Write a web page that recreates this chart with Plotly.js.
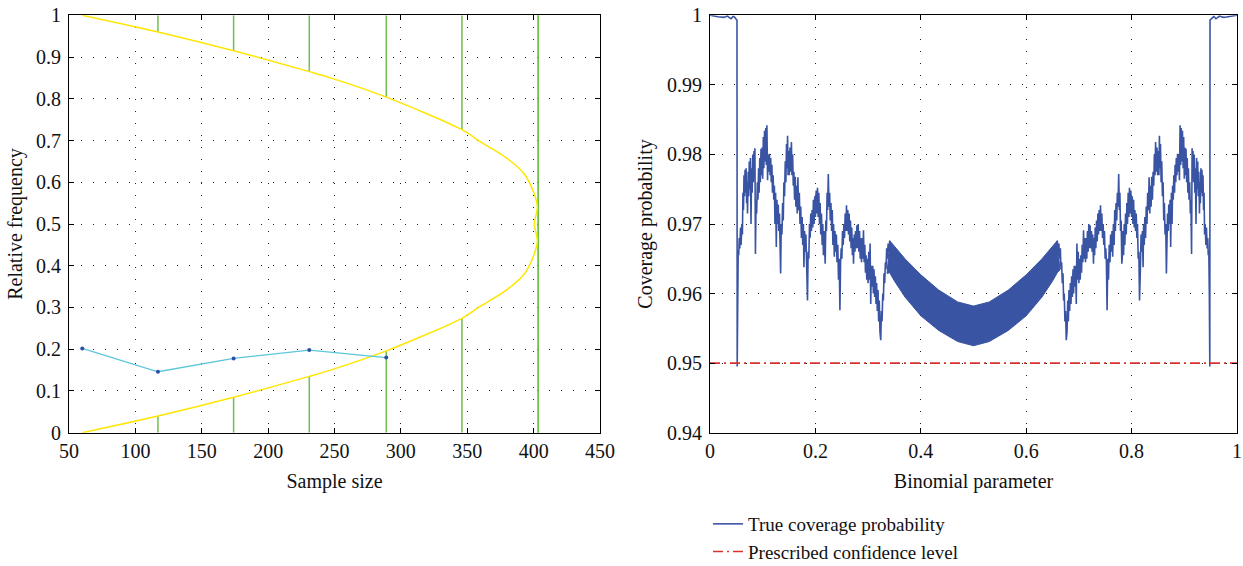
<!DOCTYPE html>
<html>
<head>
<meta charset="utf-8">
<script src="https://cdn.plot.ly/plotly-3.0.1.min.js"></script>
<style>html,body{margin:0;padding:0;background:#fff;}#chart{width:1243px;height:566px;}</style>
</head>
<body>
<div id="chart"></div>
<script>
// ---------- Left panel data ----------
const curveFreq = [0, 0.04, 0.085, 0.135, 0.15, 0.196, 0.274, 0.303, 0.343, 0.379, 0.426, 0.459, 0.5, 0.541, 0.574, 0.621, 0.657, 0.697, 0.726, 0.804, 0.85, 0.865, 0.915, 0.96, 1.0];
const curveSize = [60, 117, 174, 231, 247, 289, 346, 360, 380, 392.7, 400.2, 402.8, 400.6, 402.8, 400.2, 392.7, 380, 360, 346, 289, 247, 231, 174, 117, 60];

const stageSizes = [117, 174, 231, 289, 346, 403.5];
const stageLowerEnd = [0.04, 0.085, 0.135, 0.196, 0.274, 1.0];
const stageUpperStart = [0.96, 0.915, 0.865, 0.804, 0.726, 0.0];

const obsSize = [60, 117, 174, 231, 289];
const obsFreq = [0.202, 0.146, 0.178, 0.198, 0.180];

// ---------- Right panel data ----------
const edgeLeftP = [0, 0.005, 0.01, 0.015, 0.02, 0.025, 0.03, 0.033, 0.036, 0.04, 0.044, 0.047, 0.05, 0.0512];
const edgeLeftV = [1.0, 0.9999, 0.99985, 0.9998, 0.99975, 0.9997, 0.9998, 0.9999, 0.9997, 0.9995, 0.99985, 0.9997, 0.9994, 0.9993];

const jagLeftP = [
0.0516,0.0525,0.0535,0.0545,0.0555,0.0565,0.0580,0.0590,0.0605,0.0615,0.0625,0.0635,0.0645,0.0655,0.0665,0.0675,0.0685,0.0695,0.0705,0.0712,
0.0725,0.0735,0.0745,0.0755,0.0767,0.0778,0.0790,0.0800,0.0812,0.0822,0.0835,0.0845,0.0852,0.0862,0.0875,0.0885,0.0898,0.0910,0.0922,0.0932,
0.0945,0.0955,0.0968,0.0978,0.0990,0.1000,0.1012,0.1022,0.1035,0.1045,0.1058,0.1068,0.1080,0.1092,0.1105,0.1115,0.1128,0.1140,0.1152,0.1162,
0.1175,0.1185,0.1198,0.1210,0.1222,0.1232,0.1245,0.1258,0.1270,0.1280,0.1295,0.1305,0.1318,0.1330,0.1340,0.1352,0.1365,0.1378,0.1390,0.1402,
0.1415,0.1428,0.1440,0.1452,0.1462,0.1472,0.1482,0.1495,0.1505,0.1518,0.1530,0.1545,0.1555,0.1568,0.1580,0.1592,0.1605,0.1618,0.1630,0.1645,
0.1655,0.1668,0.1680,0.1695,0.1708,0.1722,0.1735,0.1748,0.1760,0.1772,0.1782,0.1795,0.1808,0.1820,0.1835,0.1850,0.1862,0.1875,0.1888,0.1900,
0.1912,0.1925,0.1938,0.1950,0.1962,0.1975,0.1988,0.2000,0.2015,0.2028,0.2040,0.2052,0.2065,0.2078,0.2090,0.2102,0.2115,0.2128,0.2140,0.2152,
0.2165,0.2178,0.2186,0.2198,0.2210,0.2222,0.2232,0.2245,0.2258,0.2270,0.2282,0.2295,0.2308,0.2320,0.2332,0.2345,0.2359,0.2372,0.2385,0.2398,
0.2410,0.2425,0.2438,0.2452,0.2465,0.2478,0.2490,0.2502,0.2515,0.2528,0.2540,0.2552,0.2565,0.2578,0.2590,0.2602,0.2615,0.2628,0.2640,0.2652,
0.2665,0.2678,0.2690,0.2702,0.2715,0.2723,0.2738,0.2750,0.2762,0.2775,0.2788,0.2800,0.2812,0.2825,0.2838,0.2850,0.2862,0.2875,0.2888,0.2900,
0.2912,0.2925,0.2938,0.2950,0.2962,0.2975,0.2988,0.3000,0.3012,0.3025,0.3038,0.3050,0.3062,0.3075,0.3088,0.3100,0.3112,0.3125,0.3138,0.3150,
0.3162,0.3175,0.3188,0.3200,0.3212,0.3225,0.3240,0.3252,0.3265,0.3278,0.3290,0.3302,0.3315,0.3328,0.3340,0.3352,0.3365,0.3380,0.3395,0.3410];
const jagLeftV = [
0.9495,0.9600,0.9662,0.9655,0.9680,0.9665,0.9695,0.9670,0.9700,0.9685,0.9745,0.9720,0.9770,0.9740,0.9778,0.9745,0.9780,0.9730,0.9760,0.9715,
0.9775,0.9740,0.9790,0.9750,0.9795,0.9700,0.9780,0.9745,0.9800,0.9760,0.9805,0.9770,0.9809,0.9657,0.9735,0.9715,0.9760,0.9735,0.9780,0.9745,
0.9795,0.9760,0.9808,0.9770,0.9810,0.9765,0.9825,0.9780,0.9834,0.9790,0.9838,0.9785,0.9842,0.9763,0.9800,0.9775,0.9801,0.9770,0.9795,0.9760,
0.9785,0.9745,0.9770,0.9735,0.9755,0.9700,0.9745,0.9667,0.9735,0.9700,0.9728,0.9690,0.9715,0.9660,0.9629,0.9700,0.9685,0.9730,0.9705,0.9760,
0.9740,0.9790,0.9760,0.9815,0.9780,0.9827,0.9770,0.9805,0.9770,0.9810,0.9775,0.9818,0.9770,0.9800,0.9755,0.9775,0.9735,0.9768,0.9725,0.9755,
0.9715,0.9767,0.9720,0.9745,0.9700,0.9725,0.9680,0.9710,0.9670,0.9700,0.9638,0.9690,0.9660,0.9685,0.9630,0.9590,0.9660,0.9650,0.9700,0.9680,
0.9715,0.9690,0.9720,0.9695,0.9735,0.9700,0.9740,0.9710,0.9748,0.9715,0.9752,0.9710,0.9745,0.9700,0.9730,0.9685,0.9715,0.9670,0.9700,0.9655,
0.9690,0.9650,0.9643,0.9705,0.9690,0.9745,0.9720,0.9772,0.9725,0.9745,0.9705,0.9730,0.9690,0.9720,0.9670,0.9700,0.9653,0.9690,0.9660,0.9685,
0.9645,0.9670,0.9620,0.9650,0.9576,0.9645,0.9665,0.9650,0.9690,0.9670,0.9700,0.9680,0.9715,0.9690,0.9727,0.9690,0.9720,0.9685,0.9715,0.9675,
0.9705,0.9665,0.9695,0.9655,0.9680,0.9643,0.9685,0.9660,0.9690,0.9665,0.9698,0.9665,0.9700,0.9660,0.9690,0.9650,0.9680,0.9645,0.9680,0.9650,
0.9691,0.9645,0.9670,0.9630,0.9655,0.9620,0.9650,0.9615,0.9660,0.9620,0.9672,0.9585,0.9640,0.9610,0.9640,0.9600,0.9635,0.9595,0.9625,0.9585,
0.9615,0.9575,0.9605,0.9560,0.9590,0.9545,0.9533,0.9575,0.9560,0.9600,0.9590,0.9629,0.9615,0.9645,0.9635,0.9665,0.9650,0.9672,0.9660,0.9676];

const jagRightP = [
0.6590,0.6605,0.6620,0.6635,0.6648,0.6660,0.6672,0.6685,0.6698,0.6710,0.6722,0.6735,0.6748,0.6760,0.6775,0.6788,0.6800,0.6812,0.6825,0.6838,
0.6850,0.6862,0.6875,0.6888,0.6900,0.6912,0.6925,0.6938,0.6950,0.6962,0.6975,0.6988,0.7000,0.7012,0.7025,0.7038,0.7050,0.7062,0.7075,0.7088,
0.7100,0.7112,0.7125,0.7138,0.7150,0.7162,0.7175,0.7188,0.7200,0.7212,0.7225,0.7238,0.7250,0.7262,0.7277,0.7285,0.7298,0.7310,0.7322,0.7335,
0.7348,0.7360,0.7372,0.7385,0.7398,0.7410,0.7422,0.7435,0.7448,0.7460,0.7472,0.7485,0.7498,0.7510,0.7522,0.7535,0.7548,0.7562,0.7575,0.7590,
0.7602,0.7615,0.7628,0.7641,0.7655,0.7668,0.7680,0.7692,0.7705,0.7718,0.7730,0.7742,0.7755,0.7768,0.7778,0.7790,0.7802,0.7814,0.7822,0.7835,
0.7848,0.7860,0.7872,0.7885,0.7898,0.7910,0.7922,0.7935,0.7948,0.7960,0.7972,0.7985,0.8000,0.8012,0.8025,0.8038,0.8050,0.8062,0.8075,0.8088,
0.8100,0.8112,0.8125,0.8138,0.8150,0.8165,0.8180,0.8192,0.8205,0.8218,0.8228,0.8240,0.8252,0.8265,0.8278,0.8292,0.8305,0.8320,0.8332,0.8345,
0.8355,0.8370,0.8382,0.8395,0.8408,0.8420,0.8432,0.8445,0.8455,0.8470,0.8482,0.8495,0.8505,0.8518,0.8528,0.8538,0.8548,0.8560,0.8572,0.8585,
0.8598,0.8610,0.8622,0.8635,0.8648,0.8660,0.8670,0.8682,0.8695,0.8705,0.8720,0.8730,0.8742,0.8755,0.8768,0.8778,0.8790,0.8802,0.8815,0.8825,
0.8838,0.8848,0.8860,0.8872,0.8885,0.8895,0.8908,0.8920,0.8932,0.8942,0.8955,0.8965,0.8978,0.8988,0.9000,0.9010,0.9022,0.9032,0.9045,0.9055,
0.9068,0.9078,0.9090,0.9102,0.9115,0.9125,0.9138,0.9148,0.9155,0.9165,0.9178,0.9188,0.9200,0.9210,0.9222,0.9233,0.9245,0.9255,0.9265,0.9275,
0.9288,0.9295,0.9305,0.9315,0.9325,0.9335,0.9345,0.9355,0.9365,0.9375,0.9385,0.9395,0.9410,0.9420,0.9435,0.9445,0.9455,0.9465,0.9475,0.9484];
const jagRightV = [
0.9676,0.9660,0.9672,0.9650,0.9665,0.9635,0.9645,0.9615,0.9629,0.9590,0.9600,0.9560,0.9575,0.9533,0.9545,0.9590,0.9560,0.9605,0.9575,0.9615,
0.9585,0.9625,0.9595,0.9635,0.9600,0.9640,0.9610,0.9640,0.9585,0.9672,0.9620,0.9660,0.9615,0.9650,0.9620,0.9655,0.9630,0.9670,0.9645,0.9691,
0.9650,0.9680,0.9645,0.9680,0.9650,0.9690,0.9660,0.9700,0.9665,0.9698,0.9665,0.9690,0.9660,0.9685,0.9643,0.9680,0.9655,0.9695,0.9665,0.9705,
0.9675,0.9715,0.9685,0.9720,0.9690,0.9727,0.9690,0.9715,0.9680,0.9700,0.9670,0.9690,0.9650,0.9665,0.9645,0.9576,0.9650,0.9620,0.9670,0.9645,
0.9685,0.9660,0.9690,0.9653,0.9700,0.9670,0.9720,0.9690,0.9730,0.9705,0.9745,0.9725,0.9772,0.9720,0.9745,0.9690,0.9705,0.9643,0.9650,0.9690,
0.9655,0.9700,0.9670,0.9715,0.9685,0.9730,0.9700,0.9745,0.9710,0.9752,0.9715,0.9748,0.9710,0.9740,0.9700,0.9735,0.9695,0.9720,0.9690,0.9715,
0.9680,0.9700,0.9650,0.9660,0.9590,0.9630,0.9685,0.9660,0.9690,0.9638,0.9700,0.9670,0.9710,0.9680,0.9725,0.9700,0.9745,0.9720,0.9767,0.9715,
0.9755,0.9725,0.9768,0.9735,0.9775,0.9755,0.9800,0.9770,0.9818,0.9775,0.9810,0.9770,0.9805,0.9770,0.9827,0.9780,0.9815,0.9760,0.9790,0.9740,
0.9760,0.9705,0.9730,0.9685,0.9700,0.9629,0.9660,0.9715,0.9690,0.9728,0.9700,0.9735,0.9667,0.9745,0.9700,0.9755,0.9735,0.9770,0.9745,0.9785,
0.9760,0.9795,0.9770,0.9801,0.9775,0.9800,0.9763,0.9842,0.9785,0.9838,0.9790,0.9834,0.9780,0.9825,0.9765,0.9810,0.9770,0.9808,0.9760,0.9795,
0.9745,0.9780,0.9735,0.9760,0.9715,0.9735,0.9657,0.9809,0.9770,0.9805,0.9760,0.9800,0.9745,0.9780,0.9700,0.9795,0.9750,0.9790,0.9740,0.9775,
0.9715,0.9760,0.9730,0.9780,0.9745,0.9778,0.9740,0.9770,0.9720,0.9745,0.9685,0.9700,0.9670,0.9695,0.9665,0.9680,0.9655,0.9662,0.9600,0.9495];

const edgeRightP = [0.9488, 0.95, 0.953, 0.956, 0.96, 0.964, 0.967, 0.97, 0.975, 0.98, 0.985, 0.99, 0.995, 1];
const edgeRightV = [0.9993, 0.9994, 0.9997, 0.99985, 0.9995, 0.9997, 0.9999, 0.9998, 0.9997, 0.99975, 0.9998, 0.99985, 0.9999, 1.0];

const bandP = [0.336, 0.341, 0.35, 0.37, 0.40, 0.434, 0.47, 0.5, 0.53, 0.566, 0.60, 0.63, 0.65, 0.659, 0.664];
const bandUpper = [0.9629, 0.9676, 0.9668, 0.965, 0.9627, 0.9605, 0.9588, 0.9582, 0.9588, 0.9605, 0.9627, 0.965, 0.9668, 0.9676, 0.9634];
const bandLower = [0.9629, 0.963, 0.9618, 0.9595, 0.9568, 0.9547, 0.9531, 0.9525, 0.9531, 0.9547, 0.9568, 0.9595, 0.9618, 0.963, 0.9634];

const confP = [0, 1];
const confLevel = [0.95, 0.95];

// ---------- build traces ----------
const greenX = [], greenY = [];
stageSizes.forEach((s, i) => {
  greenX.push(s, s, null, s, s, null);
  greenY.push(0, stageLowerEnd[i], null, stageUpperStart[i], 1, null);
});

const covP = edgeLeftP.concat(jagLeftP, [null], jagRightP, edgeRightP);
const covVal = edgeLeftV.concat(jagLeftV, [null], jagRightV, edgeRightV);

const blue = '#3a54a4';
const traces = [
  {x: greenX, y: greenY, xaxis: 'x', yaxis: 'y', mode: 'lines', line: {color: '#6fc04c', width: 1.5}, showlegend: false, hoverinfo: 'skip'},
  {x: curveSize, y: curveFreq, xaxis: 'x', yaxis: 'y', mode: 'lines', line: {color: '#ffe600', width: 1.5, shape: 'spline', smoothing: 0.8}, showlegend: false},
  {x: obsSize, y: obsFreq, xaxis: 'x', yaxis: 'y', mode: 'lines+markers', line: {color: '#5cc6da', width: 1.3}, marker: {color: '#2c4ea6', size: 4}, showlegend: false},
  {x: bandP.concat(bandP.slice().reverse()), y: bandUpper.concat(bandLower.slice().reverse()), xaxis: 'x2', yaxis: 'y2', mode: 'lines', fill: 'toself', fillcolor: blue, line: {color: blue, width: 1}, showlegend: false, hoverinfo: 'skip'},
  {x: covP, y: covVal, xaxis: 'x2', yaxis: 'y2', mode: 'lines', name: 'True coverage probability', line: {color: blue, width: 1.6}, connectgaps: false},
  {x: confP, y: confLevel, xaxis: 'x2', yaxis: 'y2', mode: 'lines', name: 'Prescribed confidence level', line: {color: '#d9302c', width: 1.6, dash: '10px,4px,2px,4px'}}
];

const font = 'Liberation Serif, Times New Roman, serif';
const fs = 20;
const yDom = [1 - 432.7 / 566, 1 - 15.3 / 566];
const axisCommon = {
  showline: true, linecolor: '#000', linewidth: 1, mirror: 'ticks',
  ticks: 'inside', ticklen: 5, tickcolor: '#000', tickwidth: 1,
  showgrid: true, gridcolor: '#222', gridwidth: 1, griddash: '1px,11px',
  zeroline: false, tickfont: {family: font, size: fs, color: '#111'}, automargin: false,
  ticklabeloverflow: 'allow'
};
const tfont = {family: font, size: fs, color: '#111'};

const layout = {
  width: 1243, height: 566,
  margin: {l: 0, r: 0, t: 0, b: 0, autoexpand: false},
  paper_bgcolor: '#fff', plot_bgcolor: '#fff',
  font: {family: font, size: fs, color: '#111'},
  xaxis: Object.assign({}, axisCommon, {domain: [69 / 1243, 600 / 1243], range: [50, 450], dtick: 50, tick0: 50, anchor: 'y',
    ticklabelstandoff: 0, title: {text: 'Sample size', font: tfont, standoff: 13}}),
  yaxis: Object.assign({}, axisCommon, {domain: yDom, range: [0, 1], dtick: 0.1, tick0: 0, anchor: 'x',
    ticklabelstandoff: 3, title: {text: 'Relative frequency', font: tfont, standoff: 8}}),
  xaxis2: Object.assign({}, axisCommon, {domain: [710 / 1243, 1237 / 1243], range: [0, 1], dtick: 0.2, tick0: 0, anchor: 'y2',
    ticklabelstandoff: 0, title: {text: 'Binomial parameter', font: tfont, standoff: 13}}),
  yaxis2: Object.assign({}, axisCommon, {domain: yDom, range: [0.94, 1], dtick: 0.01, tick0: 0.94, anchor: 'x2',
    ticklabelstandoff: 3, title: {text: 'Coverage probability', font: tfont, standoff: 9}}),
  showlegend: true,
  legend: {x: 708 / 1243, y: 1 - 505 / 566, xanchor: 'left', yanchor: 'top', orientation: 'v',
    font: {family: font, size: 19, color: '#111'}, bgcolor: 'rgba(0,0,0,0)', borderwidth: 0, itemwidth: 30, tracegroupgap: 0}
};

Plotly.newPlot('chart', traces, layout, {displayModeBar: false, staticPlot: true});
</script>
</body>
</html>
